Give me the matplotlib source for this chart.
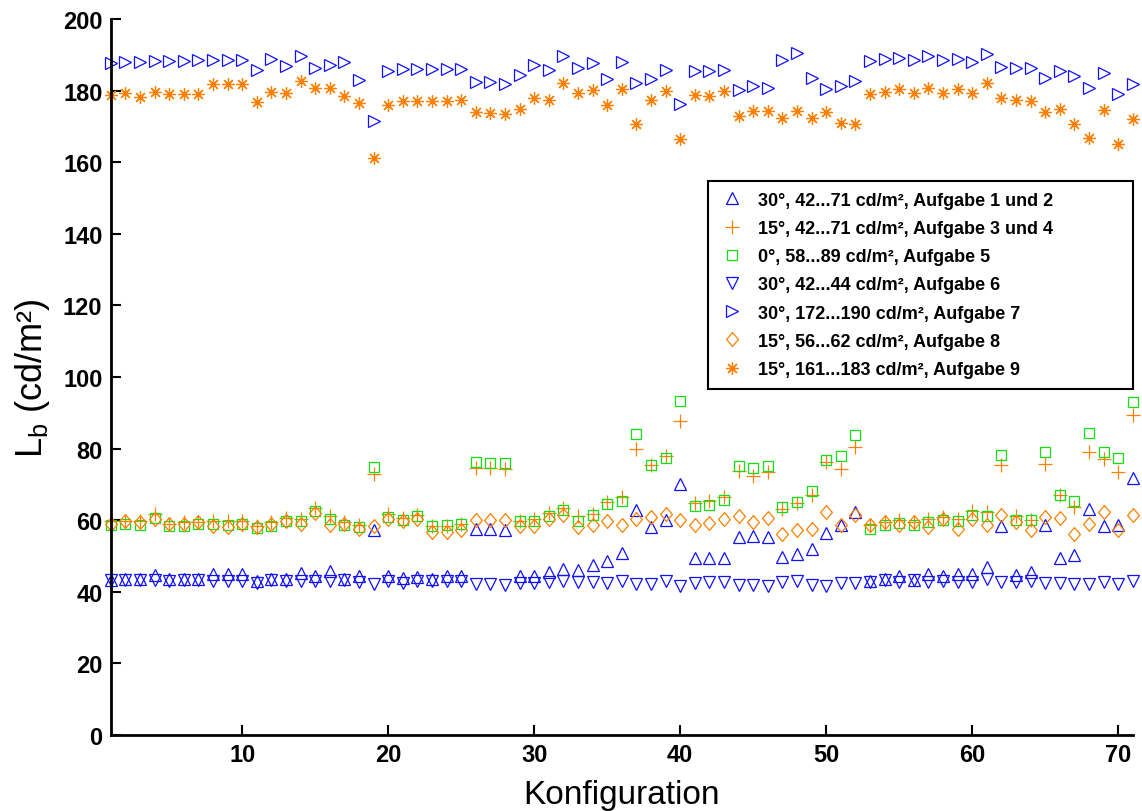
import numpy as np
import matplotlib
matplotlib.use("Agg")
import matplotlib.pyplot as plt

plt.rcParams['font.family'] = ['Liberation Sans', 'DejaVu Sans']

konfig = np.arange(1, 72)

# Aufgabe 1 und 2 (30°, 42...71 cd/m²)
a12 = [43.2, 43.5, 43.5, 44.6, 43.5, 43.5, 43.5, 44.8, 44.8, 44.8,
       43.0, 43.5, 43.6, 45.2, 44.5, 45.8, 43.5, 44.5, 57.2, 44.5,
       43.8, 44.0, 43.6, 44.3, 44.3, 57.5, 57.5, 57.1, 44.5, 44.5,
       45.4, 46.3, 46.1, 47.4, 48.6, 50.9, 62.7, 58.0, 59.9, 70.1,
       49.4, 49.4, 49.4, 55.3, 55.5, 55.3, 49.8, 50.6, 51.9, 56.3,
       58.5, 62.2, 43.0, 43.6, 44.5, 43.3, 45.0, 44.5, 45.0, 44.8,
       46.8, 58.2, 44.6, 45.6, 58.7, 49.4, 50.3, 63.1, 58.2, 58.5,
       71.7]

# Aufgabe 3 und 4 (15°, 42...71 cd/m²)
a34 = [59.8, 59.6, 59.8, 61.7, 58.9, 59.4, 59.4, 59.8, 59.6, 59.8,
       58.4, 59.4, 60.7, 60.4, 63.5, 61.2, 59.4, 58.6, 72.9, 61.7,
       60.7, 61.4, 58.2, 58.4, 58.9, 74.5, 74.5, 74.3, 59.8, 60.3,
       61.9, 63.5, 61.0, 61.7, 65.0, 66.4, 80.0, 75.4, 77.8, 87.8,
       64.8, 65.2, 66.4, 73.8, 72.4, 73.5, 63.1, 64.8, 66.9, 76.1,
       74.3, 80.3, 58.5, 59.4, 59.9, 59.4, 60.4, 60.8, 60.4, 62.4,
       62.2, 75.4, 61.0, 59.9, 75.7, 66.9, 63.6, 79.1, 77.1, 73.5,
       89.4]

# Aufgabe 5 (0°, 58...89 cd/m²)
a5 = [58.6, 58.9, 58.6, 60.5, 58.2, 58.4, 58.9, 58.9, 58.6, 58.9,
      57.7, 58.4, 59.8, 59.8, 62.6, 60.3, 58.6, 58.0, 74.8, 60.8,
      59.9, 61.0, 58.2, 58.6, 58.9, 76.2, 76.0, 76.0, 59.6, 59.8,
      61.2, 62.9, 59.8, 61.4, 64.5, 65.2, 84.1, 75.4, 77.4, 93.4,
      63.8, 64.3, 65.5, 75.0, 74.5, 75.2, 63.6, 65.0, 68.1, 76.8,
      77.8, 83.9, 57.6, 58.6, 59.2, 58.7, 59.4, 59.9, 59.6, 61.3,
      61.2, 78.2, 60.1, 59.9, 79.1, 66.9, 65.2, 84.4, 79.1, 77.3,
      93.1]

# Aufgabe 6 (30°, 42...44 cd/m²)
a6 = [43.2, 43.2, 43.2, 43.2, 43.0, 43.3, 43.3, 43.0, 43.0, 43.0,
      42.5, 43.3, 43.0, 43.0, 43.0, 43.0, 43.2, 42.7, 42.2, 43.0,
      42.5, 43.0, 43.0, 43.0, 43.0, 42.2, 42.2, 41.8, 42.5, 42.5,
      42.6, 43.0, 42.6, 42.6, 42.3, 43.1, 42.2, 42.2, 43.1, 41.5,
      42.5, 42.8, 42.6, 41.9, 41.9, 41.7, 42.6, 43.1, 41.9, 41.7,
      42.5, 42.5, 42.6, 43.3, 42.8, 43.3, 42.8, 43.1, 42.6, 42.8,
      43.6, 42.8, 42.8, 43.1, 42.5, 42.5, 42.2, 42.2, 42.6, 42.0,
      43.1]

# Aufgabe 7 (30°, 172...190 cd/m²)
a7 = [187.9, 188.1, 188.2, 188.3, 188.4, 188.4, 188.5, 188.6, 188.6, 188.6,
      185.8, 188.8, 187.0, 189.8, 186.5, 187.2, 188.1, 182.9, 171.6, 185.6,
      186.0, 186.0, 186.0, 186.2, 186.0, 182.6, 182.5, 181.8, 184.4, 187.2,
      185.8, 189.8, 186.3, 187.7, 183.2, 188.1, 182.3, 183.2, 185.8, 176.3,
      185.6, 185.6, 185.8, 180.2, 181.4, 180.7, 188.5, 190.5, 183.7, 180.6,
      181.4, 182.8, 188.3, 188.8, 189.1, 188.6, 189.6, 188.5, 188.8, 188.1,
      190.2, 186.7, 186.5, 186.5, 183.5, 185.6, 184.2, 180.7, 184.9, 179.1,
      181.8]

# Aufgabe 8 (15°, 56...62 cd/m²)
a8 = [58.9, 59.8, 59.4, 60.3, 58.9, 58.9, 59.4, 58.4, 58.0, 58.9,
      58.0, 58.9, 59.8, 58.9, 62.1, 58.6, 58.9, 57.5, 58.2, 60.3,
      59.8, 60.3, 56.6, 56.6, 57.3, 60.1, 60.1, 60.1, 58.2, 58.2,
      60.3, 61.4, 58.0, 58.6, 59.6, 58.7, 60.2, 60.8, 61.7, 59.9,
      58.5, 59.1, 60.4, 61.0, 59.4, 60.5, 56.2, 57.1, 57.4, 62.2,
      58.6, 61.3, 58.5, 59.4, 58.5, 59.4, 58.0, 60.4, 57.6, 60.4,
      58.5, 61.3, 59.4, 57.1, 60.8, 60.5, 56.2, 58.9, 62.2, 57.1,
      61.4]

# Aufgabe 9 (15°, 161...183 cd/m²)
a9 = [178.8, 179.5, 178.4, 179.7, 179.1, 179.1, 179.1, 181.8, 181.8, 181.8,
      177.0, 179.7, 179.3, 182.8, 180.9, 180.9, 178.6, 176.7, 161.1, 176.0,
      177.2, 177.2, 177.2, 177.2, 177.4, 174.1, 173.7, 173.5, 174.9, 177.9,
      177.5, 182.1, 179.5, 180.3, 176.0, 180.4, 170.7, 177.4, 180.0, 166.5,
      178.8, 178.6, 180.0, 173.0, 174.4, 174.5, 172.5, 174.5, 172.3, 174.1,
      170.9, 170.7, 179.1, 179.7, 180.6, 179.5, 180.9, 179.3, 180.6, 179.5,
      182.1, 178.1, 177.4, 177.2, 174.1, 174.9, 170.7, 166.9, 174.7, 165.1,
      172.1]

labels = ["30°, 42...71 cd/m², Aufgabe 1 und 2",
          "15°, 42...71 cd/m², Aufgabe 3 und 4",
          "0°, 58...89 cd/m², Aufgabe 5",
          "30°, 42...44 cd/m², Aufgabe 6",
          "30°, 172...190 cd/m², Aufgabe 7",
          "15°, 56...62 cd/m², Aufgabe 8",
          "15°, 161...183 cd/m², Aufgabe 9"]

blau = '#1010ff'
orange = '#ff8000'
gruen = '#10e010'

# matlab-like diamond, a bit taller than wide
raute = [(0, 1), (0.85, 0), (0, -1), (-0.85, 0), (0, 1)]

series = [a12, a34, a5, a6, a7, a8, a9]
markers = ['^', '+', 's', 'v', '>', raute, (8, 2, 0)]
colors = [blau, orange, gruen, blau, blau, orange, orange]
sizes = [8.5, 9.5, 7, 8.5, 8.5, 10, 9]

fig = plt.figure(figsize=(11.42, 8.12), dpi=100)
ax = fig.add_axes([0.097, 0.094, 0.895, 0.881])

for y, m, c, s, lab in zip(series, markers, colors, sizes, labels):
    ax.plot(konfig, y, linestyle='none', marker=m, markersize=s,
            markerfacecolor='none', markeredgecolor=c, markeredgewidth=0.9,
            color=c, label=lab, clip_on=False)

ax.set_xlim(1, 71)
ax.set_ylim(0, 200)
ax.set_xticks(range(10, 71, 10))
ax.set_yticks(range(0, 201, 20))

for side in ['top', 'right']:
    ax.spines[side].set_visible(False)
for side in ['left', 'bottom']:
    ax.spines[side].set_linewidth(2)

ax.tick_params(direction='in', length=7, width=1.5, labelsize=17, pad=6)
for t in ax.get_xticklabels() + ax.get_yticklabels():
    t.set_fontweight('bold')

ax.set_xlabel("Konfiguration", fontsize=24, labelpad=9)
ax.set_ylabel(r"$\mathregular{L_b}$ (cd/m²)", fontsize=26, labelpad=8)

leg = ax.legend(loc='upper left', bbox_to_anchor=(0.584, 0.0, 0.416, 0.774),
                mode='expand', borderaxespad=0,
                fancybox=False, framealpha=1, edgecolor='black',
                prop={'size': 13, 'weight': 'bold'}, handlelength=1.5,
                handletextpad=0.7, labelspacing=0.62, borderpad=0.6,
                markerscale=1.0)
leg.get_frame().set_linewidth(1.5)

fig.savefig("out.png", dpi=100)
